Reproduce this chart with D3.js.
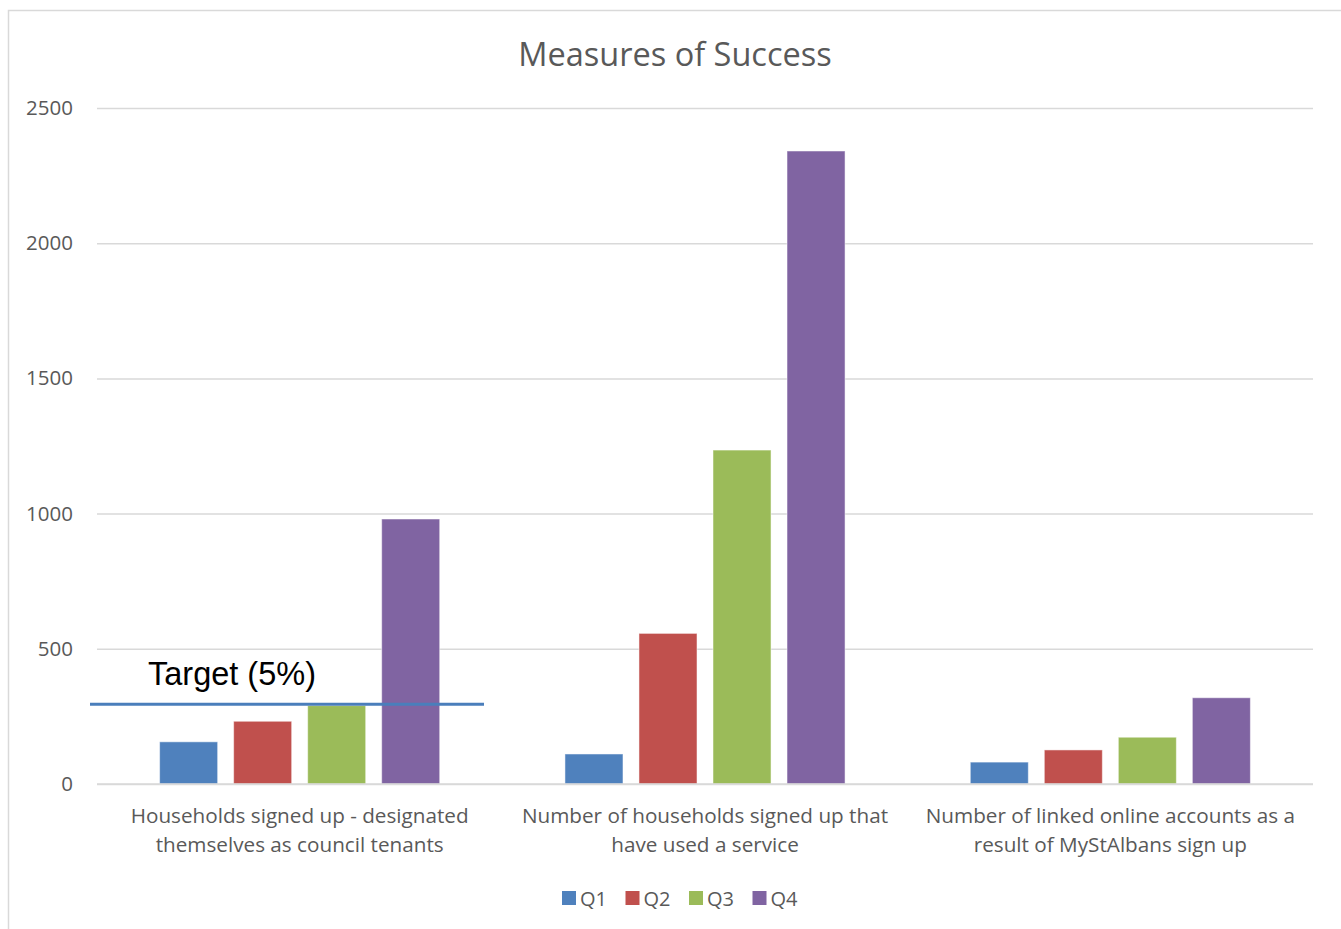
<!DOCTYPE html>
<html>
<head>
<meta charset="utf-8">
<script src="https://cdn.jsdelivr.net/npm/d3@7"></script>
<style>
  body { margin: 0; background: #fff; }
  text { font-family: "Open Sans", "DejaVu Sans", sans-serif; }
</style>
</head>
<body>
<div id="viz"></div>
<script>
// data
var categories = [
  ['Households signed up - designated', 'themselves as council tenants'],
  ['Number of households signed up that', 'have used a service'],
  ['Number of linked online accounts as a', 'result of MyStAlbans sign up']
];
var series = ['Q1', 'Q2', 'Q3', 'Q4'];
var q1 = [156, 111, 81];
var q2 = [232, 557, 126];
var q3 = [290, 1235, 173];
var q4 = [980, 2341, 319];
var yTicks = [0, 500, 1000, 1500, 2000, 2500];
var targetValue = 295;
var targetLabel = 'Target (5%)';

var colors = ['#4f81bd', '#c0504d', '#9bbb59', '#8064a2'];

var width = 1341, height = 929;
var margin = { top: 108, right: 28, bottom: 145, left: 97 };
var plotW = width - margin.left - margin.right,
    plotH = height - margin.top - margin.bottom;

var svg = d3.select('#viz').append('svg')
  .attr('width', width)
  .attr('height', height);

// chart frame
svg.append('path')
  .attr('d', 'M8.5,' + height + 'V10.5H' + width)
  .attr('fill', 'none')
  .attr('stroke', '#d9d9d9')
  .attr('stroke-width', 1.5);

svg.append('text')
  .attr('x', 675)
  .attr('y', 66)
  .attr('text-anchor', 'middle')
  .attr('fill', '#595959')
  .style('font-size', '32.5px')
  .text('Measures of Success');

var g = svg.append('g')
  .attr('transform', 'translate(' + margin.left + ',' + margin.top + ')');

var y = d3.scaleLinear().domain([0, 2500]).range([plotH, 0]);

var x0 = d3.scaleBand()
  .domain(d3.range(categories.length))
  .range([0, plotW]);

var x1 = d3.scaleBand()
  .domain(series)
  .range([0, x0.bandwidth()])
  .paddingInner(0.216)
  .paddingOuter(0.846);

// gridlines
var yAxis = d3.axisLeft(y).tickValues(yTicks).tickFormat(d3.format('d'))
  .tickSize(-plotW).tickPadding(24);
var yG = g.append('g').call(yAxis);
yG.select('.domain').remove();
yG.selectAll('.tick line').attr('stroke', '#d9d9d9').attr('stroke-width', 1.5);
yG.selectAll('.tick text')
  .attr('fill', '#595959')
  .style('font-size', '20.5px');

var rows = categories.map(function(c, i) {
  return { i: i, vals: [q1[i], q2[i], q3[i], q4[i]] };
});

var groups = g.selectAll('.grp').data(rows)
  .enter().append('g')
  .attr('class', 'grp')
  .attr('transform', function(d) { return 'translate(' + x0(d.i) + ',0)'; });

groups.selectAll('rect')
  .data(function(d) { return d.vals.map(function(v, k) { return { s: series[k], v: v, k: k }; }); })
  .enter().append('rect')
  .attr('x', function(d) { return x1(d.s); })
  .attr('width', x1.bandwidth())
  .attr('y', function(d) { return y(d.v); })
  .attr('height', function(d) { return y(0) - y(d.v); })
  .attr('fill', function(d) { return colors[d.k]; })
  .attr('stroke', 'rgba(255,255,255,0.5)')
  .attr('stroke-width', 1);

// baseline drawn over bars
g.append('line')
  .attr('x1', 0).attr('x2', plotW)
  .attr('y1', y(0)).attr('y2', y(0))
  .attr('stroke', '#d9d9d9')
  .attr('stroke-width', 1.5);

// category labels
var xG = g.append('g');
categories.forEach(function(c, i) {
  var t = xG.append('text')
    .attr('text-anchor', 'middle')
    .attr('fill', '#595959')
    .style('font-size', '20.7px');
  c.forEach(function(line, j) {
    t.append('tspan')
      .attr('x', x0(i) + x0.bandwidth() / 2)
      .attr('y', plotH + 39 + j * 29)
      .text(line);
  });
});

// target line
g.append('line')
  .attr('x1', 90 - margin.left)
  .attr('x2', 484 - margin.left)
  .attr('y1', y(targetValue))
  .attr('y2', y(targetValue))
  .attr('stroke', '#4a7ebb')
  .attr('stroke-width', 3);

g.append('text')
  .attr('x', 148 - margin.left)
  .attr('y', y(targetValue) - 19)
  .attr('fill', '#000')
  .style('font-family', '"Liberation Sans", Arial, sans-serif')
  .style('font-size', '32.5px')
  .text(targetLabel);

// legend
var legend = svg.append('g').attr('transform', 'translate(562,898)');
var items = legend.selectAll('g').data(series)
  .enter().append('g')
  .attr('transform', function(d, i) { return 'translate(' + (i * 63.5) + ',0)'; });
items.append('rect')
  .attr('x', 0).attr('y', -7)
  .attr('width', 14).attr('height', 14)
  .attr('fill', function(d, i) { return colors[i]; });
items.append('text')
  .attr('x', 18)
  .attr('y', 7.5)
  .attr('fill', '#595959')
  .style('font-size', '20px')
  .text(function(d) { return d; });
</script>
</body>
</html>
